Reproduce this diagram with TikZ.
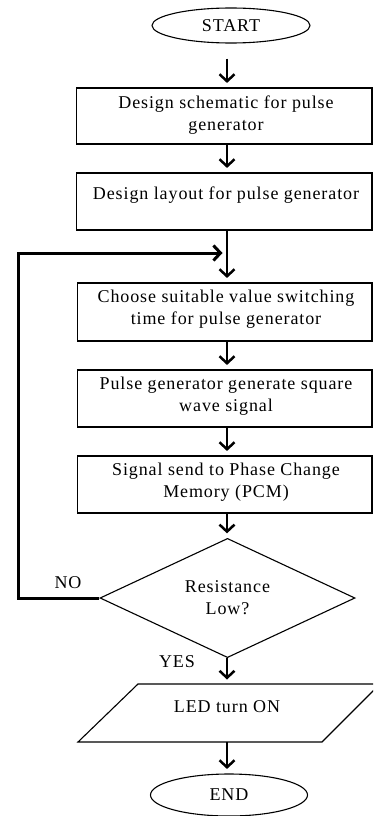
\documentclass[tikz,border=0pt]{standalone}
\usepackage{fontspec}
\setmainfont{Liberation Serif}[LetterSpace=5]
\usetikzlibrary{shapes.geometric,arrows.meta}
\begin{document}
\begin{tikzpicture}[x=1pt,y=-1pt,
  txt/.style={font=\fontsize{18}{22}\selectfont, align=center, inner sep=0pt},
  box/.style={draw, line width=1.1pt, inner sep=0pt, minimum width=295.5pt, minimum height=57pt},
  term/.style={draw, ellipse, line width=1.1pt, inner sep=0pt, font=\fontsize{18}{22}\selectfont},
  dec/.style={draw, diamond, line width=1.1pt, inner sep=0pt, minimum width=255pt, minimum height=110pt, align=center, font=\fontsize{18}{22}\selectfont},
  arr/.style={line width=2.5pt, -{Straight Barb[length=7pt,width=15pt]}, shorten >=4.5pt},
  loopline/.style={line width=3pt, line join=miter}
]
\useasboundingbox (0,0) rectangle (373,816);
\clip (0,0) rectangle (373,816);
\coordinate (col) at (227,0);

\node[term, minimum width=158pt, minimum height=35pt] (start) at (231,25.5) {START};

\node[box, minimum height=56pt] (b1) at (224.25,116) {};
\node[txt] (t1) at (226,115) {Design schematic for pulse\\generator};

\node[box] (b2) at (224.25,201.5) {};
\node[txt] (t2) at (226,195) {Design layout for pulse generator};

\node[box, minimum width=294.5pt, minimum height=58pt] (b3) at (224.75,312) {};
\node[txt] (t3) at (226,309) {Choose suitable value switching\\time for pulse generator};

\node[box, minimum width=294.5pt] (b4) at (224.75,398.5) {};
\node[txt] (t4) at (226,396) {Pulse generator generate square\\wave signal};

\node[box, minimum width=294.5pt] (b5) at (224.75,484.5) {};
\node[txt] (t5) at (226,482) {Signal send to Phase Change\\Memory (PCM)};

\node[dec] (d) at (227.5,598) {Resistance\\Low?};

\coordinate (ledtop) at (227,684);
\coordinate (ledbot) at (227,742);
\draw[line width=1.1pt] (138,684) -- (380,684) -- (322,742) -- (78,742) -- cycle;
\node[txt] (led) at (227,707) {LED turn ON};

\node[term, minimum width=157pt, minimum height=42pt] (end) at (229,795) {END};

\node[txt] (no) at (68,583) {NO};
\node[txt] (yes) at (177,662) {YES};

\draw[arr, shorten <=15pt] (start.south -| col) -- (b1.north -| col);
\draw[arr] (b1.south -| col) -- (b2.north -| col);
\draw[arr] (b2.south -| col) -- (b3.north -| col);
\draw[arr] (b3.south -| col) -- (b4.north -| col);
\draw[arr] (b4.south -| col) -- (b5.north -| col);
\draw[arr] (b5.south -| col) -- (d.north -| col);
\draw[arr] (d.south -| col) -- (ledtop);
\draw[arr] (ledbot) -- (end.north -| col);

\coordinate (corner) at (18,253);
\coordinate (merge) at (227,253);
\draw[arr, loopline] (d.west) -| (corner) -- (merge);
\end{tikzpicture}
\end{document}
